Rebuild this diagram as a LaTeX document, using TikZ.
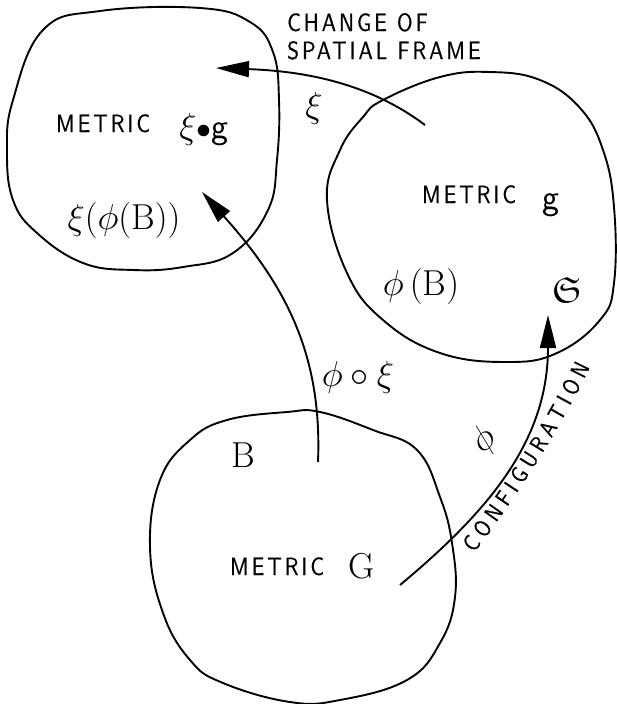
\documentclass[tikz,border=0pt]{standalone}
\usepackage{amssymb}
\usepackage{fontspec}
\usetikzlibrary{arrows.meta,decorations.text}
\newfontfamily\capsfam{lmsans10-regular.otf}[LetterSpace=12,FakeStretch=0.85,FakeBold=0.6]
\newfontfamily\cfgfam{lmsans10-regular.otf}[FakeStretch=0.85,FakeBold=0.6]
\newcommand\capsfont{\fontsize{25}{28}\selectfont\capsfam}
\newcommand\mathbig{\fontsize{24.88}{30}\selectfont}
\newcommand\cfgfont{\fontsize{23}{26}\selectfont\cfgfam}
\tikzset{
  blob/.style={line width=1.9pt, line join=round},
  map/.style={line width=1.9pt, -{Triangle[length=33pt,width=16pt]}},
  caps/.style={font=\capsfont, inner sep=0pt},
  sym/.style={font=\mathbig, scale=1.45, inner sep=0pt},
}
\begin{document}
\begin{tikzpicture}[x=1pt,y=-1pt]
\useasboundingbox (0,0) rectangle (616,704);
% blobs
\draw[blob] plot[smooth cycle, tension=0.7] coordinates {(43,30) (100,11) (200,8) (250,22) (273,52) (279,100) (277,160) (268,210) (233,253) (183,267) (133,270) (83,263) (37,233) (13,200) (7,150) (13,100)};
\draw[blob] plot[smooth cycle, tension=0.7] coordinates {(383,100) (440,77) (490,72) (540,80) (580,108) (603,150) (614,207) (614,283) (600,320) (557,353) (507,362) (440,353) (383,320) (347,273) (327,200) (340,150) (363,117)};
\draw[blob] plot[smooth cycle, tension=0.7] coordinates {(287,412) (320,412) (373,430) (417,450) (440,497) (452,543) (455,597) (440,643) (407,680) (340,700) (290,702) (223,683) (190,660) (163,613) (150,547) (160,480) (190,440) (227,420)};
% texts
\node[caps, anchor=base] (m1) at (103,132) {METRIC};
\node[sym, anchor=base] (xg) at (204,138) {$\xi{\scriptstyle\bullet}\mathsf{g}$};
\node[sym, anchor=base] (xpb) at (124,229) {$\xi(\phi(\mathrm{B}))$};
\node[caps, anchor=base] (m2) at (469,203) {METRIC};
\node[sym, anchor=base] (g) at (551,209) {$\mathsf{g}$};
\node[sym, anchor=base] (pb) at (421,295) {$\phi\,(\mathrm{B})$};
\node[sym, anchor=base] (S) at (567,302) {$\mathfrak{S}$};
\node[sym, anchor=base] (B) at (243,467) {$\mathrm{B}$};
\node[caps, anchor=base] (m3) at (277,575) {METRIC};
\node[sym, anchor=base] (G) at (362,578) {$\mathrm{G}$};
\node[caps, anchor=base west] (csf1) at (287,31) {CHANGE OF};
\node[caps, anchor=base west] (csf2) at (287,59) {SPATIAL FRAME};
% arrows
\coordinate (a1s) at (425,125);
\coordinate (a1t) at (216,68);
\draw[map] (a1s) .. controls (385,95) and (330,72) .. (a1t);
\node[sym] (xi) at (314,108) {$\xi$};
\coordinate (a2s) at (318,462);
\coordinate (a2t) at (202,192);
\draw[map] (a2s) .. controls (322,360) and (290,290) .. (a2t);
\node[sym, anchor=base] (phixi) at (358,386) {$\phi\circ\xi$};
\coordinate (a3s) at (400,585);
\coordinate (a3t) at (548,315);
\draw[map] (a3s) .. controls (490,510) and (548,440) .. (a3t);
\node[sym, rotate=45] (phi) at (485,441) {$\phi$};
\coordinate (c1) at (474,553);
\coordinate (c2) at (590,367);
\path[decorate, decoration={text along path, text={|\cfgfont|CONFIGURATION}, text align=fit to path}] (c1) .. controls (512,503) and (557,435) .. (c2);
\end{tikzpicture}
\end{document}
